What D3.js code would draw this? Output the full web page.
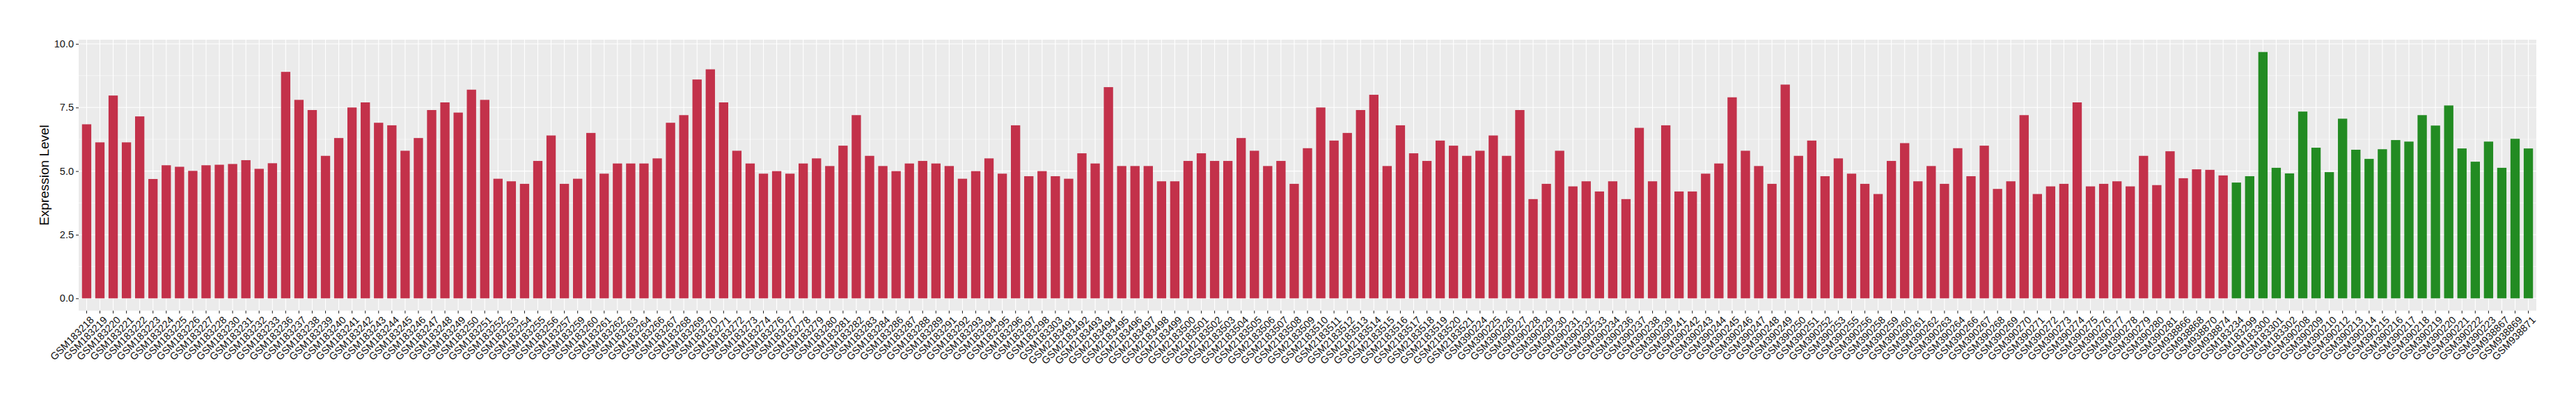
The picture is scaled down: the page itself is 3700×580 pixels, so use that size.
<!DOCTYPE html>
<html>
<head>
<meta charset="utf-8">
<script src="https://cdnjs.cloudflare.com/ajax/libs/d3/7.8.5/d3.min.js"></script>
<style>
  body { margin: 0; background: #fff; }
  text { font-family: "Liberation Sans", Arial, sans-serif; }
</style>
</head>
<body>
<script>
// sample ids, in plot order
var redIds = [
  "GSM183218","GSM183219","GSM183220","GSM183221","GSM183222","GSM183223","GSM183224","GSM183225","GSM183226","GSM183227",
  "GSM183228","GSM183230","GSM183231","GSM183232","GSM183233","GSM183236","GSM183237","GSM183238","GSM183239","GSM183240",
  "GSM183241","GSM183242","GSM183243","GSM183244","GSM183245","GSM183246","GSM183247","GSM183248","GSM183249","GSM183250",
  "GSM183251","GSM183252","GSM183253","GSM183254","GSM183255","GSM183256","GSM183257","GSM183259","GSM183260","GSM183261",
  "GSM183262","GSM183263","GSM183264","GSM183266","GSM183267","GSM183268","GSM183269","GSM183270","GSM183271","GSM183272",
  "GSM183273","GSM183274","GSM183276","GSM183277","GSM183278","GSM183279","GSM183280","GSM183281","GSM183282","GSM183283",
  "GSM183284","GSM183286","GSM183287","GSM183288","GSM183289","GSM183291","GSM183292","GSM183293","GSM183294","GSM183295",
  "GSM183296","GSM183297","GSM183298","GSM183303",
  "GSM2183491","GSM2183492","GSM2183493","GSM2183494","GSM2183495","GSM2183496","GSM2183497","GSM2183498","GSM2183499","GSM2183500",
  "GSM2183501","GSM2183502","GSM2183503","GSM2183504","GSM2183505","GSM2183506","GSM2183507","GSM2183508","GSM2183509","GSM2183510",
  "GSM2183511","GSM2183512","GSM2183513","GSM2183514","GSM2183515","GSM2183516","GSM2183517","GSM2183518","GSM2183519","GSM2183520",
  "GSM2183521",
  "GSM390224","GSM390225","GSM390226","GSM390227","GSM390228","GSM390229","GSM390230","GSM390231","GSM390232","GSM390233",
  "GSM390234","GSM390236","GSM390237","GSM390238","GSM390239","GSM390241","GSM390242","GSM390243","GSM390244","GSM390245",
  "GSM390246","GSM390247","GSM390248","GSM390249","GSM390250","GSM390251","GSM390252","GSM390253","GSM390255","GSM390256",
  "GSM390258","GSM390259","GSM390260","GSM390261","GSM390262","GSM390263","GSM390264","GSM390266","GSM390267","GSM390268",
  "GSM390269","GSM390270","GSM390271","GSM390272","GSM390273","GSM390274","GSM390275","GSM390276","GSM390277","GSM390278",
  "GSM390279","GSM390280","GSM390281",
  "GSM938866","GSM938868","GSM938870","GSM938874"
];
var redValues = [
  6.84,6.13,7.97,6.13,7.15,4.69,5.23,5.17,5.01,5.23,
  5.25,5.28,5.43,5.09,5.31,8.9,7.8,7.4,5.6,6.3,
  7.5,7.7,6.9,6.8,5.8,6.3,7.4,7.7,7.3,8.2,
  7.8,4.7,4.6,4.5,5.4,6.4,4.5,4.7,6.5,4.9,
  5.3,5.3,5.3,5.5,6.9,7.2,8.6,9.0,7.7,5.8,
  5.3,4.9,5.0,4.9,5.3,5.5,5.2,6.0,7.2,5.6,
  5.2,5.0,5.3,5.4,5.3,5.2,4.7,5.0,5.5,4.9,
  6.8,4.8,5.0,4.8,
  4.7,5.7,5.3,8.3,5.2,5.2,5.2,4.6,4.6,5.4,
  5.7,5.4,5.4,6.3,5.8,5.2,5.4,4.5,5.9,7.5,
  6.2,6.5,7.4,8.0,5.2,6.8,5.7,5.4,6.2,6.0,
  5.6,
  5.8,6.4,5.6,7.4,3.9,4.5,5.8,4.4,4.6,4.2,
  4.6,3.9,6.7,4.6,6.8,4.2,4.2,4.9,5.3,7.9,
  5.8,5.2,4.5,8.4,5.6,6.2,4.8,5.5,4.9,4.5,
  4.1,5.4,6.1,4.6,5.2,4.5,5.9,4.8,6.0,4.3,
  4.6,7.2,4.1,4.4,4.5,7.7,4.4,4.5,4.6,4.4,
  5.6,4.45,5.78,
  4.72,5.07,5.05,4.83
];
var greenIds = [
  "GSM183234","GSM183299","GSM183300","GSM183301","GSM183302",
  "GSM390208","GSM390209","GSM390210","GSM390212","GSM390213","GSM390214","GSM390215","GSM390216","GSM390217","GSM390218",
  "GSM390219","GSM390220","GSM390221","GSM390222","GSM390223",
  "GSM938867","GSM938869","GSM938871"
];
var greenValues = [
  4.55,4.80,9.68,5.13,4.91,
  7.34,5.92,4.96,7.06,5.84,5.48,5.86,6.22,6.16,7.20,
  6.79,7.58,5.89,5.37,6.16,
  5.13,6.27,5.89
];
var yTicks = [0, 2.5, 5, 7.5, 10];
var yMinor = [1.25, 3.75, 6.25, 8.75];

var w = 3700, h = 580;
var pLeft = 113, pRight = 3643, pTop = 57, pBottom = 446;

var data = redIds.map(function(id, i) { return {id: id, value: redValues[i], group: "red"}; })
  .concat(greenIds.map(function(id, i) { return {id: id, value: greenValues[i], group: "green"}; }));

var fill = {red: "#C3314A", green: "#228B22"};

var svg = d3.select("body").append("svg")
    .attr("width", w)
    .attr("height", h);

svg.append("rect").attr("width", w).attr("height", h).attr("fill", "#fff");

var x = d3.scaleBand()
    .domain(data.map(function(d) { return d.id; }))
    .range([pLeft, pRight])
    .paddingInner(0)
    .paddingOuter(0.1);

var maxV = d3.max(data, function(d) { return d.value; });
var y = d3.scaleLinear()
    .domain([-0.05 * maxV, maxV * 1.05])
    .range([pBottom, pTop]);

// panel
svg.append("rect")
    .attr("x", pLeft).attr("y", pTop)
    .attr("width", pRight - pLeft).attr("height", pBottom - pTop)
    .attr("fill", "#EBEBEB");

var grid = svg.append("g");
grid.selectAll(".minor").data(yMinor).enter().append("line")
    .attr("x1", pLeft).attr("x2", pRight)
    .attr("y1", function(d) { return y(d); }).attr("y2", function(d) { return y(d); })
    .attr("stroke", "#fff").attr("stroke-width", 0.55);
grid.selectAll(".major").data(yTicks).enter().append("line")
    .attr("x1", pLeft).attr("x2", pRight)
    .attr("y1", function(d) { return y(d); }).attr("y2", function(d) { return y(d); })
    .attr("stroke", "#fff").attr("stroke-width", 1.1);
grid.selectAll(".vert").data(data).enter().append("line")
    .attr("x1", function(d) { return x(d.id) + x.bandwidth() / 2; })
    .attr("x2", function(d) { return x(d.id) + x.bandwidth() / 2; })
    .attr("y1", pTop).attr("y2", pBottom)
    .attr("stroke", "#fff").attr("stroke-width", 1.1);

// bars
svg.append("g").selectAll("rect")
  .data(data)
  .enter().append("rect")
    .attr("x", function(d) { return x(d.id) + x.bandwidth() * 0.15; })
    .attr("width", x.bandwidth() * 0.7)
    .attr("y", function(d) { return y(d.value); })
    .attr("height", function(d) { return y(0) - y(d.value); })
    .attr("fill", function(d) { return fill[d.group]; });

// y axis
var yAxis = svg.append("g")
    .attr("transform", "translate(" + pLeft + ",0)")
    .call(d3.axisLeft(y).tickValues(yTicks).tickSize(4).tickPadding(3)
      .tickFormat(d3.format(".1f")));
yAxis.select(".domain").remove();
yAxis.selectAll("line").attr("stroke", "#333").attr("stroke-width", 1.1);
yAxis.selectAll("text").attr("font-size", 14.5).attr("fill", "#111")
    .attr("font-family", "Liberation Sans, Arial, sans-serif");

// x axis
var xAxis = svg.append("g")
    .attr("transform", "translate(0," + pBottom + ")")
    .call(d3.axisBottom(x).tickSize(4).tickSizeOuter(0));
xAxis.select(".domain").remove();
xAxis.selectAll("line").attr("stroke", "#333").attr("stroke-width", 1.1);
xAxis.selectAll("text")
    .attr("font-size", 14.5).attr("fill", "#111")
    .attr("font-family", "Liberation Sans, Arial, sans-serif")
    .attr("text-anchor", "end")
    .attr("x", 0).attr("y", 0).attr("dy", "0.72em")
    .attr("transform", "translate(4,7) rotate(-45)");

// axis title
svg.append("text")
    .attr("transform", "translate(70," + ((pTop + pBottom) / 2) + ") rotate(-90)")
    .attr("text-anchor", "middle")
    .attr("font-size", 19)
    .attr("fill", "#000")
    .text("Expression Level");
</script>
</body>
</html>
